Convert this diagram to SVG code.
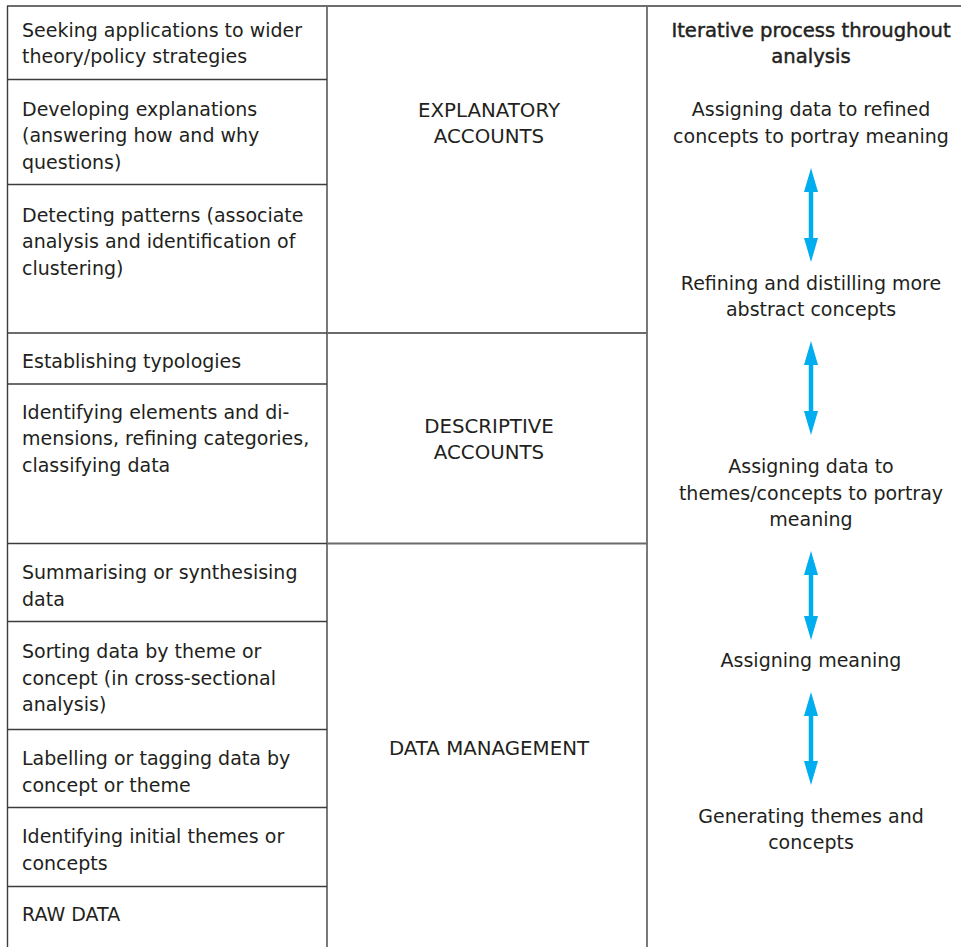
<svg xmlns="http://www.w3.org/2000/svg" width="961" height="947" viewBox="0 0 961 947">
<defs>
<style>
.t{font-family:"DejaVu Sans","Liberation Sans",sans-serif;font-size:19px;fill:#231f20}
.c{text-anchor:middle}
.m{font-size:19.8px}
.b{font-size:19.6px;stroke:#231f20;stroke-width:0.45}
.ln{stroke:#3c3c3c;stroke-width:1.4;fill:none}
.lm{stroke:#6a6a6a;stroke-width:1.8;fill:none}
.ar{stroke:#00aeef;stroke-width:4.5;fill:none}
</style>
<marker id="ah" viewBox="0 0 24 14" refX="2" refY="7" markerWidth="24" markerHeight="14" markerUnits="userSpaceOnUse" orient="auto-start-reverse">
<path d="M0,0 L24,7 L0,14 Z" fill="#00aeef"/>
</marker>
</defs>
<rect width="961" height="947" fill="#fff"/>
<g id="frame">
<line class="ln" x1="7" y1="6" x2="961" y2="6"/>
<line class="ln" x1="7.5" y1="6" x2="7.5" y2="947"/>
<line class="lm" x1="327" y1="6" x2="327" y2="947"/>
<line class="lm" x1="647" y1="6" x2="647" y2="947"/>
</g>
<g id="left-rows">
<g id="r1"><text class="t" x="22" y="37">Seeking applications to wider</text><text class="t" x="22" y="63">theory/policy strategies</text></g>
<line class="ln" x1="7" y1="79.5" x2="327" y2="79.5"/>
<g id="r2"><text class="t" x="22" y="116">Developing explanations</text><text class="t" x="22" y="142">(answering how and why</text><text class="t" x="22" y="169">questions)</text></g>
<line class="ln" x1="7" y1="184.5" x2="327" y2="184.5"/>
<g id="r3"><text class="t" x="22" y="222">Detecting patterns (associate</text><text class="t" x="22" y="248">analysis and identification of</text><text class="t" x="22" y="275">clustering)</text></g>
<line class="ln" x1="7" y1="333" x2="327" y2="333"/>
<g id="r4"><text class="t" x="22" y="368">Establishing typologies</text></g>
<line class="ln" x1="7" y1="384" x2="327" y2="384"/>
<g id="r5"><text class="t" x="22" y="419">Identifying elements and di-</text><text class="t" x="22" y="445">mensions, refining categories,</text><text class="t" x="22" y="472">classifying data</text></g>
<line class="ln" x1="7" y1="543.5" x2="327" y2="543.5"/>
<g id="r6"><text class="t" x="22" y="579">Summarising or synthesising</text><text class="t" x="22" y="606">data</text></g>
<line class="ln" x1="7" y1="621.5" x2="327" y2="621.5"/>
<g id="r7"><text class="t" x="22" y="658">Sorting data by theme or</text><text class="t" x="22" y="685">concept (in cross-sectional</text><text class="t" x="22" y="711">analysis)</text></g>
<line class="ln" x1="7" y1="729.5" x2="327" y2="729.5"/>
<g id="r8"><text class="t" x="22" y="765">Labelling or tagging data by</text><text class="t" x="22" y="792">concept or theme</text></g>
<line class="ln" x1="7" y1="807.5" x2="327" y2="807.5"/>
<g id="r9"><text class="t" x="22" y="843">Identifying initial themes or</text><text class="t" x="22" y="870">concepts</text></g>
<line class="ln" x1="7" y1="886.5" x2="327" y2="886.5"/>
<g id="r10"><text class="t" x="22" y="921">RAW DATA</text></g>
</g>
<g id="middle">
<line class="lm" x1="327" y1="333" x2="647" y2="333"/>
<line class="lm" x1="327" y1="543.5" x2="647" y2="543.5"/>
<g id="explanatory"><text class="t c m" x="489" y="117">EXPLANATORY</text><text class="t c m" x="489" y="143">ACCOUNTS</text></g>
<g id="descriptive"><text class="t c m" x="489" y="433">DESCRIPTIVE</text><text class="t c m" x="489" y="459">ACCOUNTS</text></g>
<g id="datamgmt"><text class="t c m" x="489" y="755">DATA MANAGEMENT</text></g>
</g>
<g id="right">
<g id="title"><text class="t c b" x="811" y="37">Iterative process throughout</text><text class="t c b" x="811" y="63">analysis</text></g>
<g id="s1"><text class="t c" x="811" y="116">Assigning data to refined</text><text class="t c" x="811" y="143">concepts to portray meaning</text></g>
<g id="s2"><text class="t c" x="811" y="290">Refining and distilling more</text><text class="t c" x="811" y="316">abstract concepts</text></g>
<g id="s3"><text class="t c" x="811" y="473">Assigning data to</text><text class="t c" x="811" y="500">themes/concepts to portray</text><text class="t c" x="811" y="526">meaning</text></g>
<g id="s4"><text class="t c" x="811" y="667">Assigning meaning</text></g>
<g id="s5"><text class="t c" x="811" y="823">Generating themes and</text><text class="t c" x="811" y="849">concepts</text></g>
</g>
<g id="connectors">
<line class="ar" x1="811" y1="190" x2="811" y2="240" marker-start="url(#ah)" marker-end="url(#ah)"/>
<line class="ar" x1="811" y1="363" x2="811" y2="413" marker-start="url(#ah)" marker-end="url(#ah)"/>
<line class="ar" x1="811" y1="573" x2="811" y2="618" marker-start="url(#ah)" marker-end="url(#ah)"/>
<line class="ar" x1="811" y1="714" x2="811" y2="763" marker-start="url(#ah)" marker-end="url(#ah)"/>
</g>
</svg>
